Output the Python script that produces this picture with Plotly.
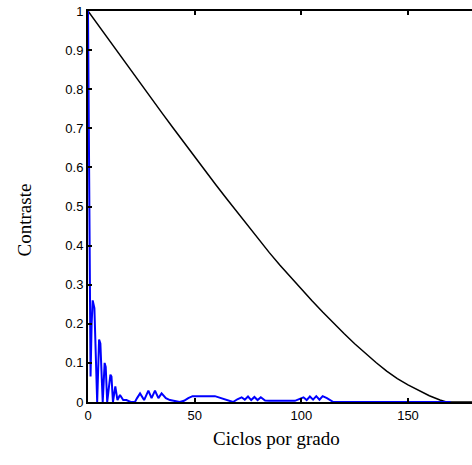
import plotly.graph_objects as go

# Black curve (diffraction-limited MTF)
black_x = [0, 5, 10, 15, 20, 25, 30, 35, 40, 45, 50, 55, 60, 65, 70, 75, 80, 85, 90,
           95, 100, 105, 110, 115, 120, 125, 130, 135, 140, 145, 150, 155, 160, 165, 168, 175, 180]
black_y = [1.0, 0.962, 0.925, 0.887, 0.85, 0.812, 0.775, 0.737, 0.70, 0.663, 0.627, 0.591,
           0.555, 0.52, 0.485, 0.45, 0.416, 0.382, 0.35, 0.319, 0.29, 0.259, 0.23, 0.202,
           0.175, 0.149, 0.124, 0.101, 0.079, 0.06, 0.044, 0.029, 0.016, 0.005, 0.0, 0.0, 0.0]

# Blue curve
blue_x = [0, 0.3, 0.7, 1.2, 1.7, 2.2, 3.0, 3.6, 4.3, 5.2, 5.8, 6.9, 7.8, 8.3, 9.0, 10.5, 11.0,
          11.7, 12.8, 13.8, 15.0, 16.5, 18, 20, 22, 23, 24.4, 26.3, 28.3, 29.8, 31.4, 33,
          34.5, 36.5, 38.4, 43, 45, 47, 49, 59.5, 65, 68, 70, 72, 73.5, 75, 76.5, 78, 79.5,
          81, 83, 85, 97, 99, 101, 102.5, 104, 105.5, 107, 108.5, 110, 112, 115, 170]
blue_y = [1.0, 0.8, 0.45, 0.065, 0.2, 0.26, 0.24, 0.12, 0.0, 0.16, 0.15, 0.0, 0.10, 0.09, 0.0,
          0.07, 0.065, 0.0, 0.04, 0.005, 0.018, 0.005, 0.005, 0.0, 0.0, 0.01, 0.022, 0.005,
          0.029, 0.01, 0.029, 0.01, 0.022, 0.01, 0.005, 0.0, 0.003, 0.01, 0.015, 0.015, 0.005,
          0.0, 0.007, 0.012, 0.006, 0.014, 0.005, 0.013, 0.005, 0.012, 0.004, 0.003, 0.003,
          0.008, 0.012, 0.005, 0.014, 0.006, 0.015, 0.006, 0.015, 0.01, 0.0, 0.0]

x_ticks = [0, 50, 100, 150]
y_ticks = [0, 0.1, 0.2, 0.3, 0.4, 0.5, 0.6, 0.7, 0.8, 0.9, 1]
y_tick_labels = ["0", "0.1", "0.2", "0.3", "0.4", "0.5", "0.6", "0.7", "0.8", "0.9", "1"]

fig = go.Figure()
fig.add_trace(go.Scatter(x=black_x, y=black_y, mode="lines",
                         line=dict(color="black", width=1.5), showlegend=False))
fig.add_trace(go.Scatter(x=blue_x, y=blue_y, mode="lines",
                         line=dict(color="#0000ff", width=2), showlegend=False))

tickfont = dict(family="Liberation Sans, Arial, sans-serif", size=13, color="black")
fig.update_layout(
    width=472, height=465, autosize=False,
    margin=dict(l=88, r=0, t=11, b=63),
    paper_bgcolor="white", plot_bgcolor="white",
    xaxis=dict(range=[0, 180], tickvals=x_ticks, ticks="inside", ticklen=4, tickwidth=2,
               tickcolor="black", showline=True, linecolor="black", linewidth=2,
               mirror="ticks", showgrid=False, zeroline=False, tickfont=tickfont),
    yaxis=dict(range=[0, 1], tickvals=y_ticks, ticktext=y_tick_labels, ticks="inside",
               ticklen=4, tickwidth=2, tickcolor="black", showline=True, linecolor="black",
               linewidth=2, mirror=False, showgrid=False, zeroline=False, tickfont=tickfont),
    annotations=[
        dict(text="Ciclos por grado", xref="paper", yref="paper", x=0.492, y=-0.0946,
             xanchor="center", yanchor="middle", showarrow=False,
             font=dict(family="Liberation Serif, Times New Roman, serif", size=19, color="black")),
        dict(text="Contraste", xref="paper", yref="paper", x=-0.1667, y=0.4668,
             xanchor="center", yanchor="middle", showarrow=False, textangle=-90,
             font=dict(family="Liberation Serif, Times New Roman, serif", size=19, color="black")),
    ],
)

fig.write_html("out.html")
